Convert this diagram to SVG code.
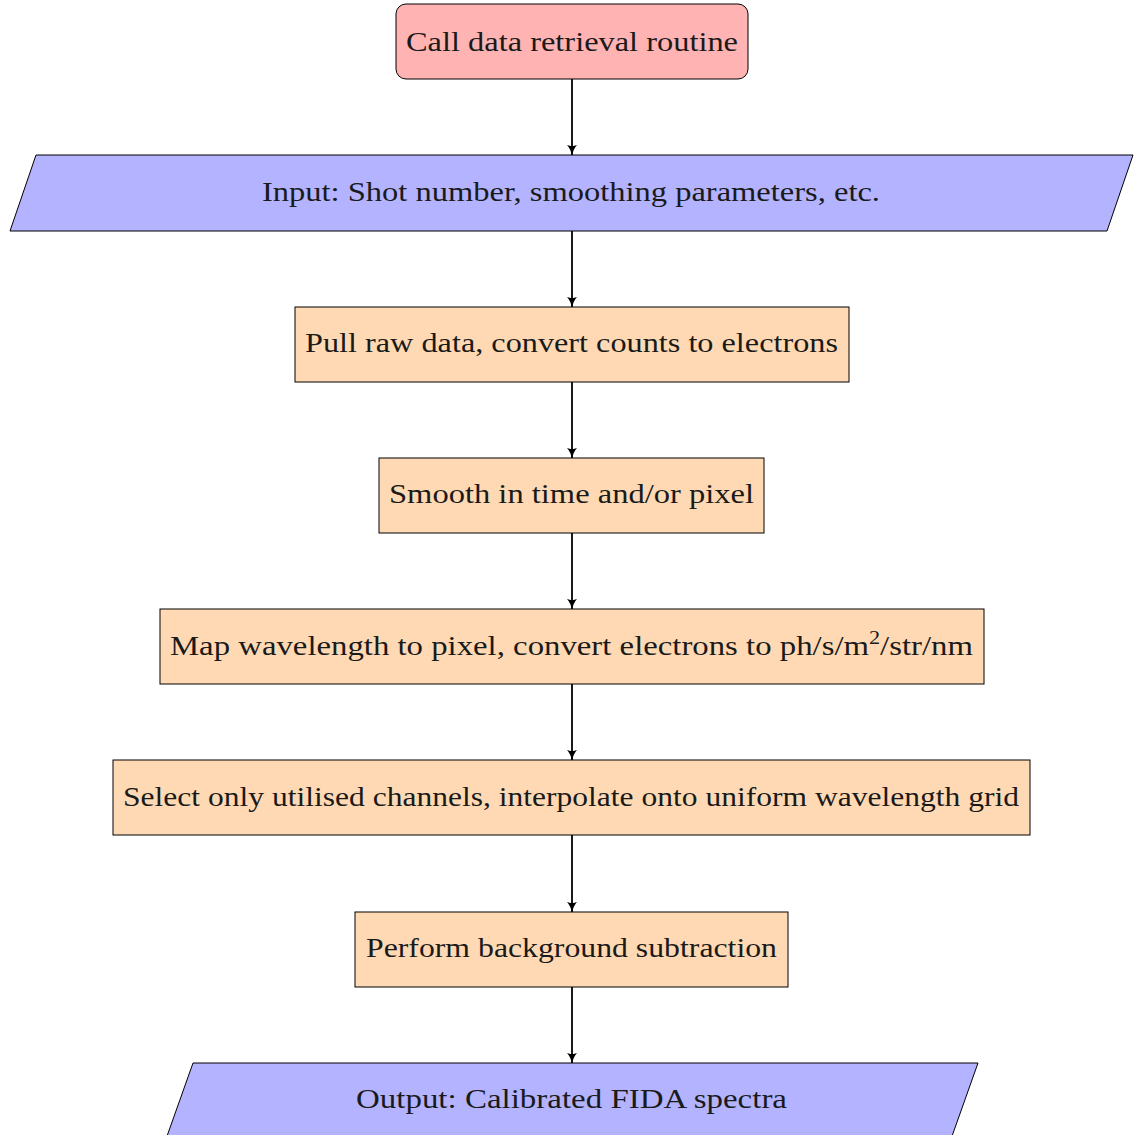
<svg xmlns="http://www.w3.org/2000/svg" width="1134" height="1135" viewBox="0 0 1134 1135">
<defs>
<style>
.n{stroke:#000;stroke-width:1}
.start{fill:#ffb3b3}
.io{fill:#b3b3ff}
.proc{fill:#ffd9b3}
.t{font-family:"Liberation Serif","DejaVu Serif",serif;font-size:28px;fill:#1a1a1a;text-anchor:middle}
.c{stroke:#000;stroke-width:1.8;fill:none;marker-end:url(#ah)}
</style>
<marker id="ah" viewBox="0 0 10 10" refX="9" refY="5" markerWidth="11" markerHeight="11" markerUnits="userSpaceOnUse" orient="auto">
<path d="M0,0.5 Q4,4 10,5 Q4,6 0,9.5 Q2,5 0,0.5 Z" fill="#000"/>
</marker>
</defs>
<rect width="1134" height="1135" fill="#fff"/>
<g id="connectors">
<line class="c" x1="572" y1="79" x2="572" y2="155"/>
<line class="c" x1="572" y1="231" x2="572" y2="307"/>
<line class="c" x1="572" y1="382" x2="572" y2="458"/>
<line class="c" x1="572" y1="533" x2="572" y2="609"/>
<line class="c" x1="572" y1="684" x2="572" y2="760"/>
<line class="c" x1="572" y1="835" x2="572" y2="912"/>
<line class="c" x1="572" y1="987" x2="572" y2="1063"/>
</g>
<g id="start">
<rect class="n start" x="396" y="4" width="352" height="75" rx="10"/>
<text class="t" x="572" y="51" textLength="332" lengthAdjust="spacingAndGlyphs">Call data retrieval routine</text>
</g>
<g id="input">
<polygon class="n io" points="36,155 1133,155 1107,231 10,231"/>
<text class="t" x="571" y="201" textLength="618" lengthAdjust="spacingAndGlyphs">Input: Shot number, smoothing parameters, etc.</text>
</g>
<g id="pull">
<rect class="n proc" x="295" y="307" width="554" height="75"/>
<text class="t" x="571.5" y="352" textLength="533" lengthAdjust="spacingAndGlyphs">Pull raw data, convert counts to electrons</text>
</g>
<g id="smooth">
<rect class="n proc" x="379" y="458" width="385" height="75"/>
<text class="t" x="571.5" y="503" textLength="365" lengthAdjust="spacingAndGlyphs">Smooth in time and/or pixel</text>
</g>
<g id="map">
<rect class="n proc" x="160" y="609" width="824" height="75"/>
<text class="t" x="571.5" y="655" textLength="803" lengthAdjust="spacingAndGlyphs">Map wavelength to pixel, convert electrons to ph/s/m<tspan font-size="19" dy="-11">2</tspan><tspan dy="11">/str/nm</tspan></text>
</g>
<g id="select">
<rect class="n proc" x="113" y="760" width="917" height="75"/>
<text class="t" x="571" y="806" textLength="896" lengthAdjust="spacingAndGlyphs">Select only utilised channels, interpolate onto uniform wavelength grid</text>
</g>
<g id="perform">
<rect class="n proc" x="355" y="912" width="433" height="75"/>
<text class="t" x="571.5" y="957" textLength="411" lengthAdjust="spacingAndGlyphs">Perform background subtraction</text>
</g>
<g id="output">
<polygon class="n io" points="193,1063 978,1063 951,1139 166,1139"/>
<text class="t" x="571.5" y="1108" textLength="431" lengthAdjust="spacingAndGlyphs">Output: Calibrated FIDA spectra</text>
</g>
</svg>
